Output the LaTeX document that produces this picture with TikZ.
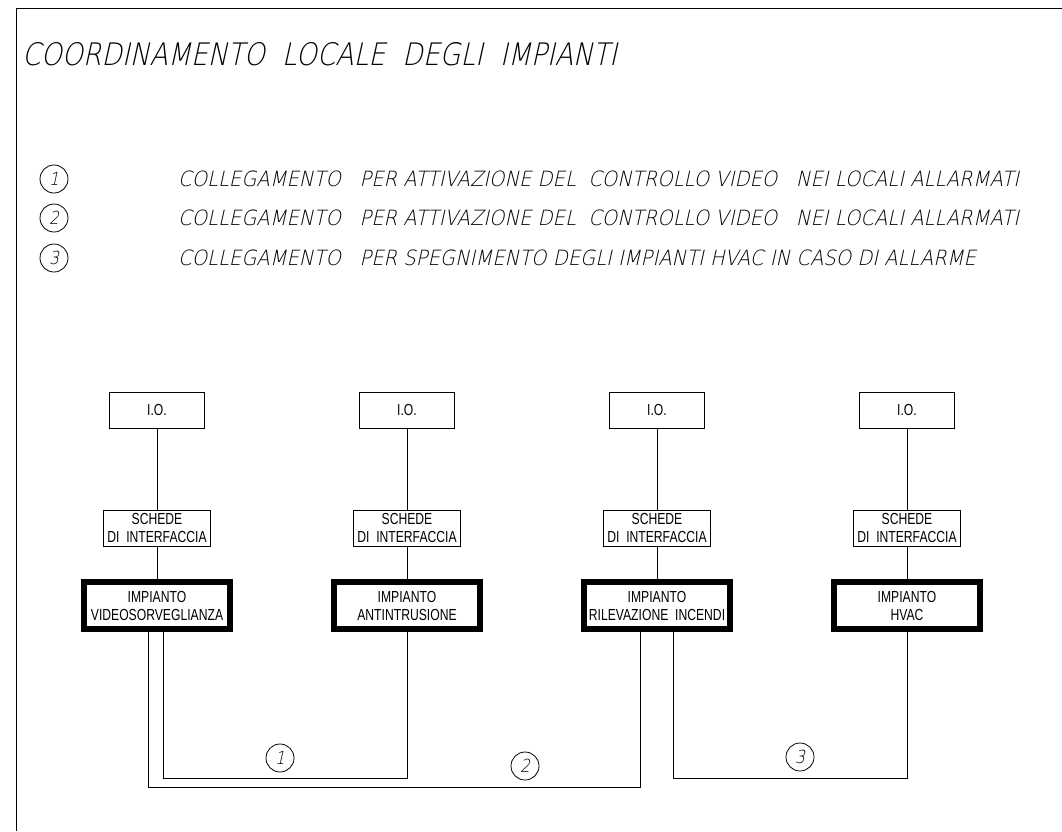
\documentclass[tikz,border=0pt]{standalone}
\usepackage{fontspec}
\newfontfamily\cadfont[FakeSlant=0.22,FakeStretch=0.86]{DejaVu Sans ExtraLight}
\newfontfamily\legfont[FakeSlant=0.22,FakeStretch=0.93]{DejaVu Sans ExtraLight}
\newfontfamily\boxfont[FakeStretch=0.76]{Liberation Sans}
\usetikzlibrary{positioning,calc}

\begin{document}
\begin{tikzpicture}[x=1pt, y=-1pt,
  wire/.style={line width=1pt},
  iobox/.style={draw, line width=1pt, minimum width=95pt, minimum height=36pt,
     inner sep=1pt, font={\boxfont\fontsize{16}{18}\selectfont}},
  schbox/.style={iobox, minimum width=107pt, align=center},
  impbox/.style={draw, line width=6pt, minimum width=146pt, minimum height=47pt,
     inner sep=1pt, align=center, font={\boxfont\fontsize{16}{18}\selectfont}},
  num/.style={circle, draw, line width=0.8pt, minimum size=28pt, inner sep=0pt,
     font={\cadfont\fontsize{18}{18}\selectfont}},
  leg/.style={anchor=west, inner sep=0pt, font={\legfont\fontsize{21}{21}\selectfont}}]

\useasboundingbox (0,0) rectangle (1062,831);

% =================== sheet frame and title ===============
\draw[wire] (16,831) -- (16,8) -- (1062,8);
\node[anchor=west, inner sep=0pt, font={\cadfont\fontsize{31}{31}\selectfont}]
  (title) at (22,54) {COORDINAMENTO\ \ LOCALE\ \ DEGLI\ \ IMPIANTI};

% =================== legend of the links ===============
\node[num] (leg1) at (54,179) {1};
\node[num] (leg2) at (54,218) {2};
\node[num] (leg3) at (54,258) {3};
\node[leg] (txt1) at (178,179)
  {COLLEGAMENTO\ \ \ PER ATTIVAZIONE DEL\ \ CONTROLLO VIDEO\ \ \ NEI LOCALI ALLARMATI};
\node[leg] (txt2) at (178,218)
  {COLLEGAMENTO\ \ \ PER ATTIVAZIONE DEL\ \ CONTROLLO VIDEO\ \ \ NEI LOCALI ALLARMATI};
\node[leg] (txt3) at (178,258)
  {COLLEGAMENTO\ \ \ PER SPEGNIMENTO DEGLI IMPIANTI HVAC IN CASO DI ALLARME};

% =================== the four systems ===============
\foreach \n/\x/\t in {vid/157/VIDEOSORVEGLIANZA, anti/407/ANTINTRUSIONE,
                      rile/657/{RILEVAZIONE\ \ INCENDI}, hvac/907/HVAC} {
  \node[iobox] (io-\n) at (\x,410) {I.O.};
  \node[schbox] (sch-\n) at (\x,528) {SCHEDE\\DI\ \ INTERFACCIA};
  \node[impbox] (imp-\n) at (\x,605.5) {IMPIANTO\\\t};
  \draw[wire] (io-\n) -- (sch-\n);
  \draw[wire] (sch-\n) -- (imp-\n);
}

% =================== links between the systems ===============
\draw[wire] ([xshift=6pt]imp-vid.south) -- ++(0,146) -| (imp-anti.south);
\draw[wire] ([xshift=-9pt]imp-vid.south) -- ++(0,155) -| ([xshift=-17pt]imp-rile.south);
\draw[wire] ([xshift=16pt]imp-rile.south) -- ++(0,146) -| (imp-hvac.south);

\node[num] (lnk1) at (280,758) {1};
\node[num] (lnk2) at (525,766) {2};
\node[num] (lnk3) at (800,757) {3};
\end{tikzpicture}
\end{document}
